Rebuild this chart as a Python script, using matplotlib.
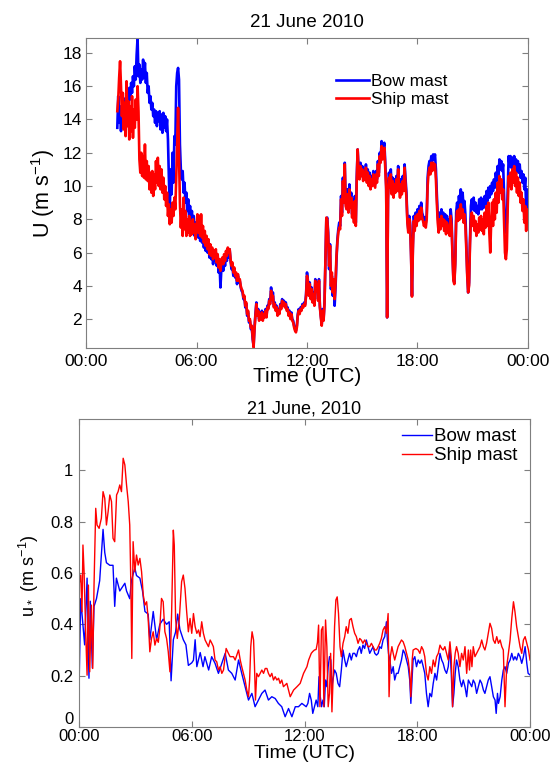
import numpy as np
import matplotlib
matplotlib.use("Agg")
import matplotlib.pyplot as plt

plt.rcParams["font.family"] = ["Liberation Sans", "DejaVu Sans"]
plt.rcParams["mathtext.default"] = "regular"

hour_ticks = [0, 6, 12, 18, 24]
hour_labels = ["00:00", "06:00", "12:00", "18:00", "00:00"]
series_names = ["Bow mast", "Ship mast"]

# wind speed U (m/s), (hour, value)
bow_U = [
    (1.70, 13.5), (1.75, 15.4), (1.80, 13.8), (1.85, 14.8), (1.90, 13.3), (1.95, 14.6), (2.00, 13.9), (2.05, 15.0),
    (2.10, 14.2), (2.15, 15.3), (2.20, 14.4), (2.25, 15.6), (2.30, 14.8), (2.35, 15.9), (2.40, 15.2), (2.45, 16.2),
    (2.50, 15.6), (2.55, 16.6), (2.60, 16.0), (2.65, 17.2), (2.70, 16.4), (2.75, 17.9), (2.80, 18.9), (2.85, 16.6),
    (2.90, 17.3), (2.95, 16.2), (3.00, 17.0), (3.05, 16.4), (3.10, 17.6), (3.15, 16.5), (3.20, 17.4), (3.25, 16.2),
    (3.30, 16.8), (3.35, 15.6), (3.40, 16.0), (3.45, 15.0), (3.50, 15.4), (3.55, 14.6), (3.60, 15.0), (3.65, 14.2),
    (3.70, 14.6), (3.75, 13.8), (3.80, 14.5), (3.85, 13.6), (3.90, 14.4), (3.95, 13.9), (4.00, 14.5), (4.05, 13.4),
    (4.10, 14.3), (4.15, 13.2), (4.20, 14.4), (4.25, 13.5), (4.30, 14.2), (4.35, 13.3), (4.40, 14.0), (4.45, 12.8),
    (4.50, 10.5), (4.55, 8.6), (4.60, 11.0), (4.65, 9.5), (4.70, 12.0), (4.75, 10.2), (4.80, 13.0), (4.85, 12.5),
    (4.90, 16.0), (4.95, 16.8), (5.00, 17.1), (5.05, 16.4), (5.10, 12.5), (5.15, 11.0), (5.20, 10.4), (5.25, 10.9),
    (5.30, 9.6), (5.35, 10.2), (5.40, 9.0), (5.45, 9.6), (5.50, 8.5), (5.55, 9.2), (5.60, 8.0), (5.65, 8.8),
    (5.70, 7.6), (5.75, 8.5), (5.80, 7.4), (5.85, 8.2), (5.90, 7.0), (5.95, 7.8), (6.00, 7.2), (6.05, 7.8),
    (6.10, 6.9), (6.15, 7.6), (6.20, 6.7), (6.25, 7.3), (6.30, 6.6), (6.35, 7.2), (6.40, 6.3), (6.45, 7.0),
    (6.50, 6.1), (6.55, 6.8), (6.60, 6.0), (6.65, 6.6), (6.70, 5.7), (6.75, 6.3), (6.80, 5.6), (6.85, 6.1),
    (6.90, 5.3), (6.95, 5.9), (7.00, 5.5), (7.05, 6.0), (7.10, 5.2), (7.15, 5.7), (7.20, 4.8), (7.25, 5.4),
    (7.30, 3.9), (7.35, 5.0), (7.40, 5.4), (7.45, 4.9), (7.50, 5.6), (7.55, 5.2), (7.60, 5.9), (7.65, 5.5),
    (7.70, 6.1), (7.75, 5.7), (7.80, 6.2), (7.85, 5.5), (7.90, 5.0), (7.95, 5.2), (8.00, 4.6), (8.05, 4.9),
    (8.10, 4.5), (8.15, 4.7), (8.20, 4.1), (8.25, 4.6), (8.30, 4.2), (8.35, 4.3), (8.40, 3.9), (8.45, 3.7),
    (8.50, 3.6), (8.55, 3.2), (8.60, 3.3), (8.65, 2.7), (8.70, 2.9), (8.75, 2.2), (8.80, 2.4), (8.85, 1.8),
    (8.90, 1.9), (8.95, 1.4), (9.00, 1.5), (9.05, 0.8), (9.10, 0.4), (9.15, 1.5), (9.20, 2.3), (9.25, 3.0),
    (9.30, 2.3), (9.35, 2.6), (9.40, 2.0), (9.45, 2.4), (9.50, 2.1), (9.55, 2.5), (9.60, 2.0), (9.65, 2.4),
    (9.70, 2.2), (9.75, 2.6), (9.80, 2.2), (9.85, 2.8), (9.90, 2.7), (9.95, 3.2), (10.00, 3.0), (10.05, 3.9),
    (10.10, 3.3), (10.15, 3.6), (10.20, 2.8), (10.25, 3.0), (10.30, 2.6), (10.35, 2.8), (10.40, 2.3), (10.45, 2.6),
    (10.50, 2.4), (10.55, 2.9), (10.60, 2.7), (10.65, 3.2), (10.70, 2.9), (10.75, 3.1), (10.80, 2.8), (10.85, 3.0),
    (10.90, 2.6), (10.95, 2.7), (11.00, 2.3), (11.05, 2.5), (11.10, 2.1), (11.15, 2.4), (11.20, 2.0), (11.25, 1.9),
    (11.30, 1.6), (11.35, 1.4), (11.40, 1.3), (11.45, 1.6), (11.50, 2.3), (11.55, 2.6), (11.60, 2.4), (11.65, 2.7),
    (11.70, 2.6), (11.75, 2.9), (11.80, 2.8), (11.85, 3.0), (11.90, 2.9), (11.95, 3.5), (12.00, 4.8), (12.05, 4.3),
    (12.10, 3.5), (12.15, 4.2), (12.20, 3.3), (12.25, 3.9), (12.30, 3.1), (12.35, 3.6), (12.40, 2.9), (12.45, 4.4),
    (12.50, 3.8), (12.55, 4.2), (12.60, 3.2), (12.65, 4.4), (12.70, 2.8), (12.75, 2.2), (12.80, 1.7), (12.85, 2.6),
    (12.90, 2.0), (12.95, 3.0), (13.00, 5.5), (13.05, 8.0), (13.10, 8.1), (13.15, 7.2), (13.20, 5.0), (13.25, 6.5),
    (13.30, 3.8), (13.35, 4.6), (13.40, 3.4), (13.45, 4.2), (13.50, 2.8), (13.55, 3.9), (13.60, 5.5), (13.65, 6.8),
    (13.70, 7.4), (13.75, 7.8), (13.80, 7.6), (13.85, 9.4), (13.90, 8.4), (13.95, 10.5), (14.00, 9.2), (14.05, 11.4),
    (14.10, 9.0), (14.15, 8.8), (14.20, 9.8), (14.25, 8.6), (14.30, 10.1), (14.35, 8.9), (14.40, 9.6), (14.45, 8.3),
    (14.50, 9.2), (14.55, 8.0), (14.60, 9.4), (14.65, 7.8), (14.70, 10.5), (14.75, 12.2), (14.80, 11.0), (14.85, 10.5),
    (14.90, 11.4), (14.95, 10.8), (15.00, 11.2), (15.05, 10.5), (15.10, 11.0), (15.15, 10.6), (15.20, 11.3), (15.25, 10.4),
    (15.30, 11.0), (15.35, 10.2), (15.40, 10.8), (15.45, 10.0), (15.50, 10.6), (15.55, 10.2), (15.60, 10.9), (15.65, 10.5),
    (15.70, 10.1), (15.75, 10.9), (15.80, 10.4), (15.85, 11.5), (15.90, 10.8), (15.95, 12.0), (16.00, 11.6), (16.05, 12.7),
    (16.10, 11.9), (16.15, 12.3), (16.20, 12.6), (16.25, 11.4), (16.30, 10.0), (16.35, 2.1), (16.40, 9.5), (16.45, 10.8),
    (16.50, 10.2), (16.55, 11.0), (16.60, 9.8), (16.65, 10.5), (16.70, 9.6), (16.75, 10.4), (16.80, 9.9), (16.85, 10.6),
    (16.90, 10.0), (16.95, 11.2), (17.00, 10.2), (17.05, 9.6), (17.10, 10.4), (17.15, 9.8), (17.20, 10.6), (17.25, 10.0),
    (17.30, 11.3), (17.35, 10.4), (17.40, 9.6), (17.45, 8.0), (17.50, 7.4), (17.55, 8.2), (17.60, 7.8), (17.65, 6.0),
    (17.70, 3.4), (17.75, 6.5), (17.80, 8.2), (17.85, 7.6), (17.90, 8.4), (17.95, 7.9), (18.00, 8.6), (18.05, 8.2),
    (18.10, 8.8), (18.15, 8.3), (18.20, 9.0), (18.25, 8.4), (18.30, 8.2), (18.35, 7.9), (18.40, 8.1), (18.45, 7.8),
    (18.50, 8.3), (18.55, 10.5), (18.60, 11.2), (18.65, 11.5), (18.70, 11.3), (18.75, 11.8), (18.80, 11.5), (18.85, 11.9),
    (18.90, 11.6), (18.95, 11.9), (19.00, 11.0), (19.05, 9.5), (19.10, 8.2), (19.15, 7.6), (19.20, 8.4), (19.25, 7.8),
    (19.30, 8.6), (19.35, 8.0), (19.40, 8.4), (19.45, 7.8), (19.50, 8.3), (19.55, 7.5), (19.60, 8.2), (19.65, 7.6),
    (19.70, 8.0), (19.75, 7.4), (19.80, 8.6), (19.85, 8.0), (19.90, 6.0), (19.95, 4.4), (20.00, 4.2), (20.05, 5.5),
    (20.10, 8.4), (20.15, 9.0), (20.20, 8.6), (20.25, 9.4), (20.30, 8.8), (20.35, 9.8), (20.40, 9.0), (20.45, 9.6),
    (20.50, 8.7), (20.55, 9.1), (20.60, 8.3), (20.65, 6.5), (20.70, 4.8), (20.75, 3.6), (20.80, 4.2), (20.85, 6.8),
    (20.90, 8.8), (20.95, 9.2), (21.00, 8.6), (21.05, 9.3), (21.10, 8.5), (21.15, 9.0), (21.20, 8.4), (21.25, 8.8),
    (21.30, 8.3), (21.35, 9.2), (21.40, 8.6), (21.45, 9.3), (21.50, 8.6), (21.55, 9.2), (21.60, 8.7), (21.65, 9.4),
    (21.70, 8.9), (21.75, 9.7), (21.80, 9.1), (21.85, 9.9), (21.90, 9.3), (21.95, 10.0), (22.00, 9.5), (22.05, 10.2),
    (22.10, 9.7), (22.15, 10.4), (22.20, 9.9), (22.25, 10.8), (22.30, 10.3), (22.35, 11.2), (22.40, 10.6), (22.45, 11.6),
    (22.50, 11.0), (22.55, 11.5), (22.60, 10.9), (22.65, 11.3), (22.70, 9.5), (22.75, 7.6), (22.80, 7.2), (22.85, 7.8),
    (22.90, 9.8), (22.95, 11.8), (23.00, 11.2), (23.05, 11.8), (23.10, 11.1), (23.15, 11.7), (23.20, 11.2), (23.25, 11.8),
    (23.30, 11.0), (23.35, 11.6), (23.40, 10.9), (23.45, 11.5), (23.50, 10.8), (23.55, 11.3), (23.60, 10.5), (23.65, 10.9),
    (23.70, 10.2), (23.75, 10.7), (23.80, 9.8), (23.85, 10.5), (23.90, 8.6), (23.95, 9.8), (24.00, 9.0),
]

ship_U = [
    (1.70, 14.5), (1.75, 15.2), (1.80, 16.5), (1.85, 17.5), (1.90, 16.0), (1.95, 14.2), (2.00, 15.6), (2.05, 13.4),
    (2.10, 15.0), (2.15, 13.0), (2.20, 16.3), (2.25, 13.6), (2.30, 15.1), (2.35, 12.8), (2.40, 14.8), (2.45, 13.3),
    (2.50, 15.4), (2.55, 12.9), (2.60, 14.6), (2.65, 13.5), (2.70, 15.2), (2.75, 14.0), (2.80, 16.0), (2.85, 14.5),
    (2.90, 11.6), (2.95, 10.8), (3.00, 12.0), (3.05, 10.6), (3.10, 11.8), (3.15, 10.5), (3.20, 12.5), (3.25, 10.4),
    (3.30, 11.5), (3.35, 10.3), (3.40, 11.2), (3.45, 9.8), (3.50, 10.8), (3.55, 9.6), (3.60, 10.9), (3.65, 9.4),
    (3.70, 10.7), (3.75, 9.8), (3.80, 11.5), (3.85, 10.2), (3.90, 11.7), (3.95, 10.0), (4.00, 11.2), (4.05, 9.8),
    (4.10, 11.0), (4.15, 9.6), (4.20, 10.5), (4.25, 9.2), (4.30, 10.0), (4.35, 8.8), (4.40, 9.6), (4.45, 8.2),
    (4.50, 8.9), (4.55, 7.7), (4.60, 8.6), (4.65, 7.8), (4.70, 9.0), (4.75, 8.2), (4.80, 9.3), (4.85, 8.6),
    (4.90, 10.5), (4.95, 12.5), (5.00, 14.7), (5.05, 12.0), (5.10, 9.0), (5.15, 7.5), (5.20, 8.6), (5.25, 7.0),
    (5.30, 9.3), (5.35, 7.4), (5.40, 8.5), (5.45, 7.0), (5.50, 8.0), (5.55, 7.2), (5.60, 8.2), (5.65, 7.0),
    (5.70, 7.8), (5.75, 7.1), (5.80, 8.0), (5.85, 7.2), (5.90, 7.7), (5.95, 6.8), (6.00, 7.5), (6.05, 8.3),
    (6.10, 7.2), (6.15, 8.2), (6.20, 7.0), (6.25, 8.3), (6.30, 6.9), (6.35, 7.6), (6.40, 6.6), (6.45, 7.3),
    (6.50, 6.4), (6.55, 7.0), (6.60, 6.2), (6.65, 6.8), (6.70, 5.9), (6.75, 6.5), (6.80, 5.8), (6.85, 6.3),
    (6.90, 5.6), (6.95, 6.1), (7.00, 5.7), (7.05, 6.2), (7.10, 5.4), (7.15, 5.9), (7.20, 5.1), (7.25, 5.6),
    (7.30, 4.9), (7.35, 5.5), (7.40, 5.7), (7.45, 5.3), (7.50, 5.9), (7.55, 5.5), (7.60, 6.1), (7.65, 5.8),
    (7.70, 6.3), (7.75, 6.0), (7.80, 6.2), (7.85, 5.6), (7.90, 5.2), (7.95, 5.4), (8.00, 4.8), (8.05, 5.1),
    (8.10, 4.6), (8.15, 4.8), (8.20, 4.3), (8.25, 4.7), (8.30, 4.3), (8.35, 4.4), (8.40, 4.0), (8.45, 3.8),
    (8.50, 3.7), (8.55, 3.3), (8.60, 3.4), (8.65, 2.8), (8.70, 3.0), (8.75, 2.3), (8.80, 2.5), (8.85, 1.9),
    (8.90, 2.0), (8.95, 1.5), (9.00, 1.6), (9.05, 0.9), (9.10, 0.3), (9.15, 1.4), (9.20, 2.2), (9.25, 2.9),
    (9.30, 2.2), (9.35, 2.5), (9.40, 1.9), (9.45, 2.3), (9.50, 2.0), (9.55, 2.4), (9.60, 1.9), (9.65, 2.3),
    (9.70, 2.1), (9.75, 2.5), (9.80, 2.1), (9.85, 2.7), (9.90, 2.6), (9.95, 3.1), (10.00, 2.9), (10.05, 3.7),
    (10.10, 3.2), (10.15, 3.4), (10.20, 2.7), (10.25, 2.9), (10.30, 2.5), (10.35, 2.7), (10.40, 2.2), (10.45, 2.5),
    (10.50, 2.3), (10.55, 2.8), (10.60, 2.6), (10.65, 3.1), (10.70, 2.8), (10.75, 3.0), (10.80, 2.7), (10.85, 2.9),
    (10.90, 2.5), (10.95, 2.6), (11.00, 2.2), (11.05, 2.4), (11.10, 2.0), (11.15, 2.3), (11.20, 1.9), (11.25, 1.8),
    (11.30, 1.5), (11.35, 1.3), (11.40, 1.2), (11.45, 1.5), (11.50, 2.2), (11.55, 2.5), (11.60, 2.3), (11.65, 2.6),
    (11.70, 2.5), (11.75, 2.8), (11.80, 2.7), (11.85, 2.9), (11.90, 2.8), (11.95, 3.4), (12.00, 4.6), (12.05, 4.2),
    (12.10, 3.4), (12.15, 4.1), (12.20, 3.2), (12.25, 3.8), (12.30, 3.0), (12.35, 3.5), (12.40, 2.8), (12.45, 4.3),
    (12.50, 3.7), (12.55, 4.1), (12.60, 3.1), (12.65, 4.3), (12.70, 2.7), (12.75, 2.1), (12.80, 1.6), (12.85, 2.5),
    (12.90, 1.9), (12.95, 2.9), (13.00, 5.6), (13.05, 8.1), (13.10, 8.0), (13.15, 7.0), (13.20, 5.2), (13.25, 6.4),
    (13.30, 4.0), (13.35, 4.8), (13.40, 3.6), (13.45, 4.4), (13.50, 3.2), (13.55, 4.2), (13.60, 5.8), (13.65, 6.6),
    (13.70, 7.2), (13.75, 7.5), (13.80, 7.4), (13.85, 9.2), (13.90, 8.2), (13.95, 10.3), (14.00, 9.0), (14.05, 11.3),
    (14.10, 8.8), (14.15, 8.6), (14.20, 9.5), (14.25, 8.4), (14.30, 9.8), (14.35, 8.7), (14.40, 9.3), (14.45, 8.1),
    (14.50, 9.0), (14.55, 7.8), (14.60, 9.1), (14.65, 7.6), (14.70, 10.3), (14.75, 12.2), (14.80, 10.9), (14.85, 10.4),
    (14.90, 11.2), (14.95, 10.6), (15.00, 11.0), (15.05, 10.3), (15.10, 10.8), (15.15, 10.4), (15.20, 11.1), (15.25, 10.2),
    (15.30, 10.8), (15.35, 10.0), (15.40, 10.6), (15.45, 9.8), (15.50, 10.4), (15.55, 10.0), (15.60, 10.7), (15.65, 10.3),
    (15.70, 9.9), (15.75, 10.7), (15.80, 10.2), (15.85, 11.3), (15.90, 10.6), (15.95, 11.8), (16.00, 11.4), (16.05, 12.4),
    (16.10, 11.6), (16.15, 12.0), (16.20, 12.3), (16.25, 11.1), (16.30, 9.8), (16.35, 2.1), (16.40, 9.2), (16.45, 10.5),
    (16.50, 9.9), (16.55, 10.7), (16.60, 9.5), (16.65, 10.3), (16.70, 9.3), (16.75, 10.1), (16.80, 9.6), (16.85, 10.4),
    (16.90, 9.7), (16.95, 11.0), (17.00, 10.0), (17.05, 9.3), (17.10, 10.1), (17.15, 9.5), (17.20, 10.3), (17.25, 9.7),
    (17.30, 11.1), (17.35, 10.1), (17.40, 9.3), (17.45, 7.8), (17.50, 7.2), (17.55, 8.0), (17.60, 7.6), (17.65, 5.8),
    (17.70, 3.35), (17.75, 6.2), (17.80, 7.9), (17.85, 7.3), (17.90, 8.2), (17.95, 7.6), (18.00, 8.3), (18.05, 7.9),
    (18.10, 8.5), (18.15, 8.0), (18.20, 8.7), (18.25, 8.1), (18.30, 7.9), (18.35, 7.6), (18.40, 7.8), (18.45, 7.5),
    (18.50, 8.0), (18.55, 10.0), (18.60, 10.8), (18.65, 11.1), (18.70, 10.7), (18.75, 11.4), (18.80, 10.9), (18.85, 11.4),
    (18.90, 11.0), (18.95, 11.3), (19.00, 10.4), (19.05, 9.0), (19.10, 7.8), (19.15, 7.2), (19.20, 8.0), (19.25, 7.4),
    (19.30, 8.2), (19.35, 7.6), (19.40, 8.0), (19.45, 7.3), (19.50, 7.9), (19.55, 7.1), (19.60, 7.8), (19.65, 7.2),
    (19.70, 7.6), (19.75, 7.0), (19.80, 8.2), (19.85, 7.6), (19.90, 5.8), (19.95, 4.3), (20.00, 4.1), (20.05, 5.3),
    (20.10, 7.9), (20.15, 8.5), (20.20, 7.9), (20.25, 8.6), (20.30, 8.0), (20.35, 8.9), (20.40, 8.1), (20.45, 8.6),
    (20.50, 7.8), (20.55, 8.3), (20.60, 7.6), (20.65, 6.2), (20.70, 4.6), (20.75, 3.6), (20.80, 4.0), (20.85, 6.5),
    (20.90, 8.0), (20.95, 8.4), (21.00, 7.6), (21.05, 8.2), (21.10, 7.3), (21.15, 7.9), (21.20, 7.0), (21.25, 7.7),
    (21.30, 7.2), (21.35, 8.1), (21.40, 7.4), (21.45, 8.2), (21.50, 7.3), (21.55, 8.0), (21.60, 7.1), (21.65, 8.4),
    (21.70, 7.5), (21.75, 8.8), (21.80, 7.6), (21.85, 9.0), (21.90, 7.2), (21.95, 6.0), (22.00, 7.8), (22.05, 9.0),
    (22.10, 7.6), (22.15, 9.2), (22.20, 8.0), (22.25, 9.6), (22.30, 8.4), (22.35, 10.2), (22.40, 9.0), (22.45, 10.6),
    (22.50, 9.6), (22.55, 10.4), (22.60, 9.2), (22.65, 9.8), (22.70, 8.0), (22.75, 6.0), (22.80, 5.6), (22.85, 6.2),
    (22.90, 8.8), (22.95, 10.6), (23.00, 10.0), (23.05, 10.8), (23.10, 9.8), (23.15, 11.0), (23.20, 10.2), (23.25, 11.2),
    (23.30, 10.0), (23.35, 10.8), (23.40, 9.6), (23.45, 10.5), (23.50, 9.4), (23.55, 10.2), (23.60, 9.0), (23.65, 9.6),
    (23.70, 8.5), (23.75, 9.2), (23.80, 7.8), (23.85, 8.8), (23.90, 7.3), (23.95, 8.6), (24.00, 7.8),
]

# friction velocity u* (m/s), (hour, value)
bow_ustar = [
    (0.00, 0.14), (0.09, 0.50), (0.30, 0.32), (0.43, 0.58), (0.53, 0.19), (0.60, 0.49), (0.71, 0.23), (0.80, 0.47),
    (0.93, 0.50), (1.10, 0.57), (1.28, 0.77), (1.37, 0.68), (1.46, 0.64), (1.64, 0.63), (1.81, 0.63), (1.90, 0.47),
    (1.99, 0.58), (2.17, 0.53), (2.35, 0.55), (2.44, 0.56), (2.53, 0.53), (2.70, 0.50), (2.79, 0.57), (2.97, 0.62),
    (3.06, 0.59), (3.24, 0.58), (3.38, 0.53), (3.51, 0.45), (3.68, 0.44), (3.77, 0.34), (3.95, 0.45), (4.13, 0.34),
    (4.30, 0.40), (4.48, 0.42), (4.66, 0.40), (4.80, 0.41), (4.90, 0.18), (5.02, 0.34), (5.14, 0.37), (5.25, 0.44),
    (5.37, 0.38), (5.55, 0.34), (5.69, 0.32), (5.82, 0.24), (6.00, 0.25), (6.09, 0.26), (6.18, 0.34), (6.27, 0.235),
    (6.45, 0.29), (6.60, 0.235), (6.70, 0.274), (6.90, 0.222), (7.06, 0.274), (7.24, 0.248), (7.42, 0.209), (7.60, 0.248),
    (7.78, 0.287), (7.95, 0.222), (8.13, 0.209), (8.31, 0.183), (8.49, 0.261), (8.66, 0.209), (8.84, 0.157), (9.02, 0.105),
    (9.20, 0.131), (9.37, 0.079), (9.55, 0.105), (9.73, 0.131), (9.90, 0.144), (10.08, 0.105), (10.26, 0.118), (10.44, 0.111),
    (10.61, 0.092), (10.79, 0.079), (10.97, 0.040), (11.15, 0.072), (11.33, 0.040), (11.51, 0.079), (11.68, 0.079), (11.86, 0.092),
    (12.09, 0.079), (12.18, 0.092), (12.27, 0.131), (12.36, 0.105), (12.44, 0.053), (12.53, 0.079), (12.62, 0.105), (12.71, 0.079),
    (12.77, 0.196), (12.84, 0.118), (12.91, 0.079), (12.98, 0.105), (13.05, 0.079), (13.12, 0.183), (13.19, 0.157), (13.26, 0.235),
    (13.33, 0.274), (13.40, 0.261), (13.46, 0.157), (13.51, 0.183), (13.60, 0.222), (13.69, 0.209), (13.78, 0.170), (13.87, 0.157),
    (13.96, 0.222), (14.05, 0.300), (14.14, 0.261), (14.22, 0.235), (14.31, 0.261), (14.40, 0.287), (14.49, 0.261), (14.58, 0.287),
    (14.67, 0.287), (14.76, 0.274), (14.85, 0.300), (14.94, 0.313), (15.02, 0.287), (15.11, 0.319), (15.20, 0.306), (15.29, 0.339),
    (15.38, 0.313), (15.47, 0.287), (15.56, 0.300), (15.65, 0.313), (15.74, 0.287), (15.83, 0.280), (15.92, 0.287), (16.00, 0.313),
    (16.09, 0.306), (16.18, 0.339), (16.27, 0.352), (16.36, 0.410), (16.41, 0.339), (16.47, 0.287), (16.54, 0.261), (16.63, 0.209),
    (16.72, 0.235), (16.80, 0.183), (16.89, 0.209), (16.98, 0.209), (17.07, 0.235), (17.16, 0.261), (17.25, 0.300), (17.34, 0.287),
    (17.43, 0.261), (17.52, 0.235), (17.60, 0.183), (17.66, 0.092), (17.73, 0.196), (17.78, 0.261), (17.87, 0.274), (17.96, 0.235),
    (18.05, 0.261), (18.14, 0.248), (18.23, 0.261), (18.32, 0.235), (18.40, 0.209), (18.49, 0.131), (18.58, 0.079), (18.67, 0.131),
    (18.76, 0.118), (18.85, 0.170), (18.94, 0.209), (19.03, 0.183), (19.12, 0.235), (19.21, 0.287), (19.30, 0.261), (19.38, 0.248),
    (19.47, 0.222), (19.56, 0.209), (19.65, 0.235), (19.74, 0.313), (19.81, 0.209), (19.88, 0.079), (19.95, 0.131), (20.02, 0.209),
    (20.09, 0.261), (20.18, 0.235), (20.27, 0.183), (20.36, 0.157), (20.45, 0.183), (20.54, 0.157), (20.63, 0.118), (20.72, 0.183),
    (20.81, 0.170), (20.90, 0.157), (20.98, 0.183), (21.07, 0.170), (21.16, 0.131), (21.25, 0.157), (21.34, 0.183), (21.43, 0.170),
    (21.52, 0.144), (21.60, 0.131), (21.69, 0.157), (21.78, 0.183), (21.87, 0.196), (21.96, 0.157), (22.05, 0.118), (22.14, 0.105),
    (22.20, 0.053), (22.27, 0.131), (22.32, 0.092), (22.41, 0.118), (22.50, 0.183), (22.58, 0.222), (22.67, 0.235), (22.76, 0.209),
    (22.85, 0.248), (22.94, 0.261), (23.03, 0.287), (23.12, 0.261), (23.20, 0.274), (23.29, 0.261), (23.38, 0.287), (23.47, 0.274),
    (23.56, 0.248), (23.65, 0.274), (23.74, 0.313), (23.83, 0.248), (23.90, 0.209), (24.00, 0.203),
]

ship_ustar = [
    (0.00, 0.553), (0.09, 0.592), (0.16, 0.449), (0.21, 0.709), (0.27, 0.605), (0.36, 0.358), (0.43, 0.202), (0.50, 0.553),
    (0.57, 0.215), (0.66, 0.475), (0.73, 0.228), (0.80, 0.553), (0.89, 0.852), (0.96, 0.787), (1.07, 0.774), (1.19, 0.813),
    (1.28, 0.917), (1.37, 0.891), (1.46, 0.787), (1.55, 0.839), (1.64, 0.904), (1.73, 0.878), (1.81, 0.735), (1.90, 0.722),
    (2.00, 0.904), (2.08, 0.917), (2.17, 0.943), (2.26, 0.917), (2.35, 1.047), (2.44, 1.021), (2.53, 0.943), (2.62, 0.878),
    (2.70, 0.787), (2.76, 0.553), (2.81, 0.267), (2.88, 0.722), (2.97, 0.605), (3.06, 0.670), (3.15, 0.631), (3.24, 0.657),
    (3.33, 0.605), (3.42, 0.514), (3.51, 0.475), (3.60, 0.488), (3.68, 0.423), (3.77, 0.293), (3.86, 0.345), (3.95, 0.371),
    (4.04, 0.319), (4.13, 0.345), (4.22, 0.330), (4.30, 0.384), (4.39, 0.501), (4.48, 0.488), (4.57, 0.371), (4.66, 0.345),
    (4.75, 0.293), (4.84, 0.215), (4.93, 0.449), (5.02, 0.767), (5.07, 0.709), (5.14, 0.423), (5.23, 0.345), (5.34, 0.423),
    (5.46, 0.566), (5.55, 0.592), (5.64, 0.540), (5.73, 0.449), (5.82, 0.371), (5.91, 0.423), (6.00, 0.365), (6.09, 0.442),
    (6.18, 0.391), (6.27, 0.365), (6.36, 0.378), (6.44, 0.352), (6.53, 0.410), (6.62, 0.365), (6.71, 0.339), (6.80, 0.326),
    (6.89, 0.313), (6.98, 0.339), (7.07, 0.326), (7.15, 0.313), (7.24, 0.261), (7.33, 0.254), (7.42, 0.222), (7.51, 0.235),
    (7.60, 0.209), (7.69, 0.222), (7.83, 0.306), (7.95, 0.287), (8.04, 0.274), (8.13, 0.274), (8.22, 0.274), (8.31, 0.261),
    (8.40, 0.280), (8.49, 0.300), (8.58, 0.261), (8.66, 0.235), (8.75, 0.209), (8.84, 0.183), (8.93, 0.144), (9.02, 0.118),
    (9.08, 0.183), (9.14, 0.313), (9.21, 0.371), (9.29, 0.339), (9.34, 0.235), (9.39, 0.105), (9.46, 0.209), (9.55, 0.196),
    (9.64, 0.209), (9.73, 0.222), (9.82, 0.209), (9.91, 0.228), (10.00, 0.228), (10.08, 0.209), (10.17, 0.196), (10.26, 0.209),
    (10.35, 0.183), (10.44, 0.196), (10.53, 0.183), (10.62, 0.190), (10.70, 0.170), (10.79, 0.183), (10.88, 0.157), (11.06, 0.170),
    (11.24, 0.118), (11.33, 0.131), (11.42, 0.144), (11.60, 0.157), (11.77, 0.170), (11.95, 0.209), (12.13, 0.235), (12.22, 0.261),
    (12.36, 0.287), (12.44, 0.294), (12.53, 0.300), (12.62, 0.302), (12.69, 0.330), (12.75, 0.397), (12.82, 0.079), (12.90, 0.378),
    (12.98, 0.391), (13.03, 0.079), (13.12, 0.417), (13.19, 0.313), (13.26, 0.079), (13.33, 0.131), (13.39, 0.287), (13.46, 0.059),
    (13.53, 0.209), (13.60, 0.391), (13.67, 0.495), (13.74, 0.507), (13.81, 0.442), (13.89, 0.313), (13.96, 0.274), (14.05, 0.326),
    (14.14, 0.352), (14.22, 0.391), (14.31, 0.365), (14.40, 0.417), (14.49, 0.423), (14.58, 0.391), (14.67, 0.365), (14.76, 0.352),
    (14.85, 0.326), (14.94, 0.345), (15.02, 0.339), (15.11, 0.326), (15.20, 0.339), (15.29, 0.326), (15.38, 0.313), (15.47, 0.313),
    (15.56, 0.326), (15.65, 0.313), (15.74, 0.300), (15.83, 0.300), (15.92, 0.313), (16.00, 0.326), (16.09, 0.345), (16.18, 0.378),
    (16.27, 0.391), (16.36, 0.365), (16.45, 0.442), (16.50, 0.118), (16.57, 0.274), (16.65, 0.313), (16.72, 0.287), (16.80, 0.261),
    (16.89, 0.287), (16.98, 0.313), (17.07, 0.326), (17.16, 0.339), (17.25, 0.332), (17.34, 0.313), (17.43, 0.287), (17.52, 0.261),
    (17.60, 0.209), (17.66, 0.118), (17.73, 0.261), (17.78, 0.300), (17.93, 0.306), (18.05, 0.300), (18.14, 0.287), (18.23, 0.313),
    (18.32, 0.300), (18.40, 0.274), (18.49, 0.209), (18.58, 0.183), (18.67, 0.235), (18.76, 0.209), (18.85, 0.261), (18.94, 0.235),
    (19.03, 0.274), (19.12, 0.287), (19.21, 0.319), (19.30, 0.306), (19.38, 0.300), (19.47, 0.313), (19.56, 0.287), (19.65, 0.261),
    (19.74, 0.332), (19.81, 0.274), (19.88, 0.079), (19.95, 0.235), (20.02, 0.287), (20.09, 0.313), (20.18, 0.287), (20.27, 0.235),
    (20.36, 0.287), (20.45, 0.261), (20.54, 0.313), (20.63, 0.209), (20.72, 0.300), (20.78, 0.222), (20.84, 0.300), (20.91, 0.235),
    (20.98, 0.313), (21.07, 0.274), (21.16, 0.287), (21.25, 0.300), (21.34, 0.313), (21.43, 0.339), (21.52, 0.313), (21.60, 0.300),
    (21.69, 0.326), (21.78, 0.365), (21.87, 0.404), (21.96, 0.384), (22.05, 0.339), (22.14, 0.326), (22.23, 0.352), (22.32, 0.326),
    (22.41, 0.339), (22.50, 0.313), (22.58, 0.300), (22.67, 0.079), (22.76, 0.235), (22.85, 0.287), (22.94, 0.339), (23.03, 0.423),
    (23.12, 0.488), (23.20, 0.449), (23.29, 0.391), (23.38, 0.352), (23.47, 0.313), (23.56, 0.287), (23.65, 0.339), (23.74, 0.352),
    (23.83, 0.326), (23.92, 0.300), (24.00, 0.261),
]

BLUE = "#0000ff"
RED = "#ff0000"
GREY = "#7f7f7f"


def unzip(pairs):
    t, v = zip(*pairs)
    return np.array(t), np.array(v)


def matlab_axes(ax, fs):
    for s in ax.spines.values():
        s.set_color(GREY)
        s.set_linewidth(0.8)
    ax.tick_params(direction="in", top=True, right=True, length=4, width=0.8,
                   color=GREY, labelsize=fs, pad=3)
    ax.set_xlim(0, 24)
    ax.set_xticks(hour_ticks)
    ax.set_xticklabels(hour_labels)


fig = plt.figure(figsize=(5.6, 7.65), dpi=100)

# top: wind speed
ax1 = fig.add_axes([86 / 560, 1 - 348 / 765, 442 / 560, 310 / 765])
for pairs, c, name in [(bow_U, BLUE, series_names[0]), (ship_U, RED, series_names[1])]:
    t, v = unzip(pairs)
    ax1.plot(t, v, color=c, lw=1.9, label=name)
matlab_axes(ax1, 12.5)
ax1.tick_params(axis="x", pad=4)
ax1.set_ylim(0.26, 18.9)
ax1.set_yticks(range(2, 19, 2))
ax1.set_title("21 June 2010", fontsize=13.5, pad=8)
ax1.set_xlabel("Time (UTC)", fontsize=15, labelpad=-1)
ax1.set_ylabel("U (m s$^{-1}$)", fontsize=15.5)
ax1.yaxis.set_label_coords(-0.065, 0.5)
ax1.legend(loc="upper left", bbox_to_anchor=(0.53, 0.935), frameon=False,
           fontsize=12.5, handlelength=1.9, handletextpad=0.1, labelspacing=0.15)

# bottom: friction velocity
ax2 = fig.add_axes([79 / 560, 1 - 727 / 765, 451 / 560, 308 / 765])
for pairs, c, name in [(bow_ustar, BLUE, series_names[0]), (ship_ustar, RED, series_names[1])]:
    t, v = unzip(pairs)
    ax2.plot(t, v, color=c, lw=1.0, label=name)
matlab_axes(ax2, 12)
ax2.tick_params(axis="x", pad=1.5)
ax2.tick_params(axis="y", pad=4)
ax2.set_ylim(0, 1.2)
ax2.set_yticks([0, 0.2, 0.4, 0.6, 0.8, 1.0])
ax2.set_yticklabels(["0", "0.2", "0.4", "0.6", "0.8", "1"])
# the "0" sits just above the first time label, as in the original
ax2.get_yticklabels()[0].set_verticalalignment("bottom")
ax2.set_title("21 June, 2010", fontsize=13, pad=4)
ax2.set_xlabel("Time (UTC)", fontsize=14, labelpad=0.5)
ax2.set_ylabel("u$_*$ (m s$^{-1}$)", fontsize=13)
ax2.yaxis.set_label_coords(-0.085, 0.49)
ax2.legend(loc="upper right", bbox_to_anchor=(1.01, 1.025), frameon=False,
           fontsize=13.5, handlelength=1.6, handletextpad=0.1, labelspacing=0.1)

fig.savefig("out.png", dpi=100)
